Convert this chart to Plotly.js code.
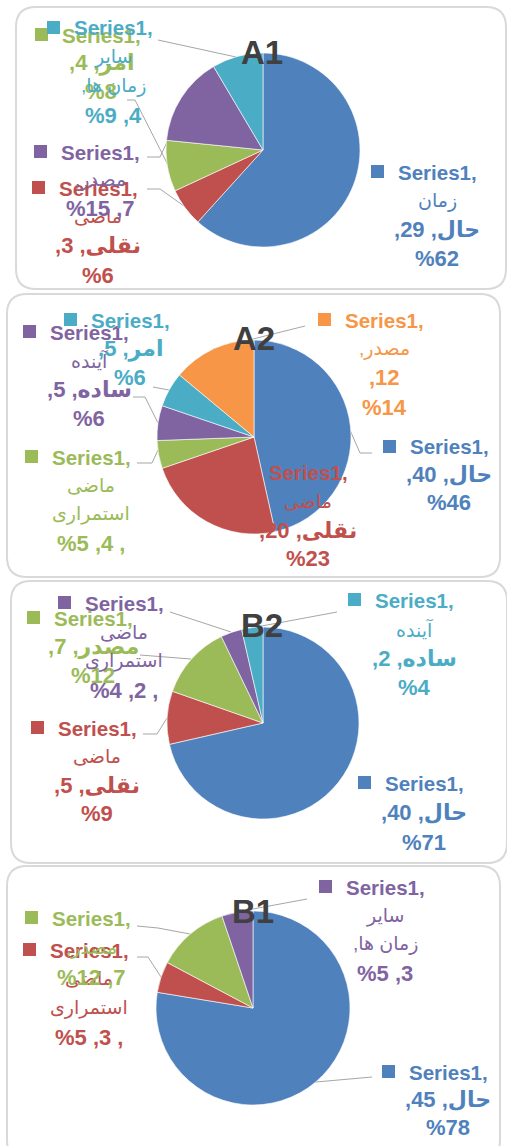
<!DOCTYPE html>
<html>
<head>
<meta charset="utf-8">
<script src="https://cdn.plot.ly/plotly-3.0.1.min.js"></script>
<style>
  html, body { margin: 0; padding: 0; background: #ffffff; }
  #chart { width: 507px; height: 1146px; }
</style>
</head>
<body>
<div id="chart"></div>
<script>
// ---------------- DATA ----------------
const SERIES_NAME = 'Series1';
const chartTitles = ['A1', 'A2', 'B2', 'B1'];

const A1_categories = ['زمان حال', 'ماضی نقلی', 'امر', 'مصدر', 'سایر زمان ها'];
const A1_values = [29, 3, 4, 7, 4];
const A1_percents = [62, 6, 8, 15, 9];

const A2_categories = ['حال', 'ماضی نقلی', 'ماضی استمراری', 'آینده ساده', 'امر', 'مصدر'];
const A2_values = [40, 20, 4, 5, 5, 12];
const A2_percents = [46, 23, 5, 6, 6, 14];

const B2_categories = ['حال', 'ماضی نقلی', 'مصدر', 'ماضی استمراری', 'آینده ساده'];
const B2_values = [40, 5, 7, 2, 2];
const B2_percents = [71, 9, 12, 4, 4];

const B1_categories = ['حال', 'ماضی استمراری', 'مصدر', 'سایر زمان ها'];
const B1_values = [45, 3, 7, 3];
const B1_percents = [78, 5, 12, 5];

// ---------------- STYLE / LAYOUT ----------------
const W = 507, H = 1146;
const palette = ['#4F81BD', '#C0504D', '#9BBB59', '#8064A2', '#4BACC6', '#F79646'];
const FONT = 'Liberation Sans, DejaVu Sans, Arial, sans-serif';
const ARABIC = /[\u0600-\u06FF\uFB50-\uFDFF\uFE70-\uFEFF]/;

const charts = [
  { title: chartTitles[0], cats: A1_categories, vals: A1_values, pcts: A1_percents,
    center: [263, 150], r: 97, titlePos: [262, 52],
    box: [16, 7, 506, 289],
    fmt: [['S','W0','VW1','P'], ['S','W0','VW1','P'], ['S','VW0','P'], ['S','W0,','PV'], ['S','W0','WR,','PV']],
    anchors: [[437,172,29], [98,188,29], [101,35,28], [100,152,28], [113,28,29]],
    squares: [true, true, true, true, true],
    leaders: [null, [[147,189],[160,189],[184,206]], [[127,100],[135,100],[168,165]], [[147,157],[160,157],[168,140]], [[158,40],[236,57]]]
  },
  { title: chartTitles[1], cats: A2_categories, vals: A2_values, pcts: A2_percents,
    center: [254, 437], r: 97, titlePos: [254, 338],
    box: [7, 294, 500, 577],
    fmt: [['S','VW0','P'], ['S','W0','VW1','P'], ['S','W0','W1','PV,'], ['S','W0','VW1','P'], ['S','VW0','P'], ['S','W0,','V','P']],
    anchors: [[449,447,28], [308,473,28.5], [91,457,28.7], [89,332,28.7], [130,320,29], [384,320,29]],
    squares: [true, false, true, true, true, true],
    leaders: [[[350,430],[360,453],[372,453]], null, [[137,463],[152,463],[158,450]], [[133,397],[145,397],[158,423]], [[153,387],[169,390]], [[305,326],[213,349]]]
  },
  { title: chartTitles[2], cats: B2_categories, vals: B2_values, pcts: B2_percents,
    center: [263, 723], r: 96, titlePos: [262, 625],
    box: [11, 581, 507, 863],
    fmt: [['S','VW0','P'], ['S','W0','VW1','P'], ['S','VW0','P'], ['S','W0','W1','PV,'], ['S','W0','VW1','P']],
    anchors: [[424,783,29.5], [97,728,28.5], [93,618,28.5], [124,603,29], [414,600,29]],
    squares: [true, true, true, true, true],
    leaders: [null, [[143,734],[157,734],[167,718]], [[140,655],[191,659]], [[170,612],[231,632]], [[337,612],[251,628]]]
  },
  { title: chartTitles[3], cats: B1_categories, vals: B1_values, pcts: B1_percents,
    center: [253, 1008], r: 97, titlePos: [253, 911],
    box: [7, 866, 500, 1160],
    fmt: [['S','VW0','P'], ['S','W0','W1','PV,'], ['S','W0,','PV'], ['S','W0','WR,','PV']],
    anchors: [[448,1072,27.5], [89,950,29], [91,918,29.5], [385,887,28.7]],
    squares: [true, true, true, true],
    leaders: [[[372,1077],[316,1082]], [[137,957],[148,957],[161,977]], [[137,926],[158,928],[190,934]], [[307,899],[237,912]]]
  }
];

const px = x => x / W;
const py = y => 1 - y / H;

// logical (reading-order) text of each label line, with its size/weight kind
function lineText(tok, cat, v, p) {
  const words = cat.split(' ');
  switch (tok) {
    case 'S': return { t: SERIES_NAME + ',', kind: 'series' };
    case 'W0': return { t: words[0], kind: 'word' };
    case 'W1': return { t: words[1], kind: 'word' };
    case 'W0,': return { t: words[0] + ',', kind: 'word' };
    case 'WR,': return { t: words.slice(1).join(' ') + ',', kind: 'word' };
    case 'VW0': return { t: words[0] + ', ' + v + ',', kind: 'num' };
    case 'VW1': return { t: words[1] + ', ' + v + ',', kind: 'num' };
    case 'V': return { t: ',' + v, kind: 'num' };
    case 'P': return { t: '%' + p, kind: 'num' };
    case 'PV': return { t: '%' + p + ' ,' + v, kind: 'num' };
    case 'PV,': return { t: '%' + p + ' ,' + v + ' ,', kind: 'num' };
  }
  return { t: '', kind: 'word' };
}
const KIND_FONT = {
  series: { size: 20.5, weight: 'bold' },
  word: { size: 19, weight: 'normal' },
  num: { size: 22, weight: 'bold' }
};

const traces = [];
const annotations = [];
const shapes = [];

function roundRect(x0, y0, x1, y1, r) {
  const X = px, Y = py;
  return `M ${X(x0 + r)},${Y(y0)} L ${X(x1 - r)},${Y(y0)} Q ${X(x1)},${Y(y0)} ${X(x1)},${Y(y0 + r)} ` +
         `L ${X(x1)},${Y(y1 - r)} Q ${X(x1)},${Y(y1)} ${X(x1 - r)},${Y(y1)} ` +
         `L ${X(x0 + r)},${Y(y1)} Q ${X(x0)},${Y(y1)} ${X(x0)},${Y(y1 - r)} ` +
         `L ${X(x0)},${Y(y0 + r)} Q ${X(x0)},${Y(y0)} ${X(x0 + r)},${Y(y0)} Z`;
}

charts.forEach(ch => {
  shapes.push({ type: 'path', xref: 'paper', yref: 'paper', layer: 'below',
    path: roundRect(ch.box[0], ch.box[1], ch.box[2], ch.box[3], 20),
    fillcolor: '#ffffff', line: { color: '#d9d9d9', width: 2 } });

  const [cx, cy] = ch.center;
  traces.push({
    type: 'pie',
    values: ch.vals,
    labels: ch.cats,
    sort: false,
    direction: 'clockwise',
    rotation: 0,
    textinfo: 'none',
    hoverinfo: 'none',
    showlegend: false,
    marker: { colors: palette.slice(0, ch.vals.length), line: { color: '#ffffff', width: 0.6 } },
    domain: { x: [px(cx - ch.r), px(cx + ch.r)], y: [py(cy + ch.r), py(cy - ch.r)] }
  });

  ch.leaders.forEach(pts => {
    if (!pts) return;
    const d = pts.map((q, i) => (i ? 'L ' : 'M ') + px(q[0]) + ',' + py(q[1])).join(' ');
    shapes.push({ type: 'path', xref: 'paper', yref: 'paper', layer: 'below', path: d,
      line: { color: '#a6a6a6', width: 1 } });
  });

  ch.cats.forEach((cat, i) => {
    const color = palette[i];
    const [ax, ay, dy] = ch.anchors[i];
    if (ch.squares[i]) {
      shapes.push({ type: 'rect', xref: 'paper', yref: 'paper', layer: 'below',
        x0: px(ax - 66), x1: px(ax - 53), y0: py(ay + 6), y1: py(ay - 7),
        fillcolor: color, line: { width: 0 } });
    }
    ch.fmt[i].forEach((tok, k) => {
      const L = lineText(tok, cat, ch.vals[i], ch.pcts[i]);
      const f = KIND_FONT[L.kind];
      annotations.push({
        xref: 'paper', yref: 'paper', x: px(ax), y: py(ay + k * dy),
        xanchor: 'center', yanchor: 'middle', showarrow: false,
        text: L.t,
        font: { family: FONT, size: f.size, color: color, weight: f.weight }
      });
    });
  });

  annotations.push({
    xref: 'paper', yref: 'paper', x: px(ch.titlePos[0]), y: py(ch.titlePos[1]),
    xanchor: 'center', yanchor: 'middle', showarrow: false,
    text: ch.title,
    font: { family: 'Liberation Sans, Arial, sans-serif', size: 33, color: '#404040', weight: 'bold' }
  });
});

const layout = {
  width: W, height: H,
  margin: { l: 0, r: 0, t: 0, b: 0 },
  paper_bgcolor: '#ffffff',
  plot_bgcolor: '#ffffff',
  showlegend: false,
  shapes: shapes,
  annotations: annotations
};

Plotly.newPlot('chart', traces, layout, { staticPlot: true, displayModeBar: false }).then(gd => {
  // base direction per line: Persian lines read right-to-left, others left-to-right
  gd.querySelectorAll('g.annotation text').forEach(el => {
    const rtl = ARABIC.test(el.textContent);
    el.style.direction = rtl ? 'rtl' : 'ltr';
    el.style.unicodeBidi = 'embed';
    el.setAttribute('direction', rtl ? 'rtl' : 'ltr');
  });
});
</script>
</body>
</html>
